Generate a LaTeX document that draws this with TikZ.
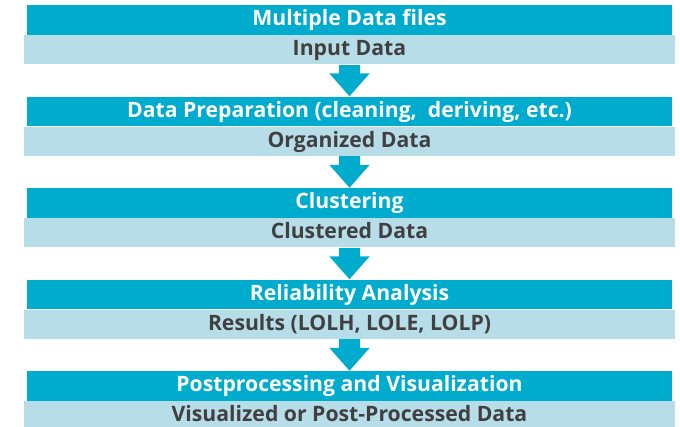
\documentclass[tikz,border=0pt]{standalone}
\usepackage{fontspec}
\setmainfont{Open Sans}
\usepackage{tikz}
\usetikzlibrary{arrows.meta, positioning}
\definecolor{cStep}{RGB}{0,172,206}
\definecolor{cData}{RGB}{183,221,233}
\definecolor{cText}{RGB}{64,64,64}
\tikzset{
	stepbar/.style ={rectangle, minimum width=645pt, minimum height=29.7pt, inner sep=0pt, text height=16pt, text depth=4pt, fill=cStep, text=white, font=\fontsize{21.2}{24}\selectfont\bfseries},
	databar/.style ={rectangle, minimum width=651pt, minimum height=29pt, inner sep=0pt, text height=16pt, text depth=4pt, fill=cData, text=cText, font=\fontsize{21.2}{24}\selectfont\bfseries},
	flowarrow/.style={-{Triangle[width=39pt, length=23pt]}, line width=21pt, draw=cStep, shorten <=0.5pt},
}
\begin{document}
\begin{tikzpicture}[node distance=0pt]
	\useasboundingbox (0,0) rectangle (680pt,-426pt);
	% pipeline stages, each with its output just below
	\node[stepbar] (s1) at (349.5pt,-19.85pt) {Multiple Data files};
	\node[databar, below=of s1] (d1) {Input Data};
	\node[stepbar, below=32pt of d1] (s2) {Data Preparation (cleaning,\ \ deriving, etc.)};
	\node[databar, below=of s2] (d2) {Organized Data};
	\node[stepbar, below=32pt of d2] (s3) {Clustering};
	\node[databar, below=of s3] (d3) {Clustered Data};
	\node[stepbar, below=32pt of d3] (s4) {Reliability Analysis};
	\node[databar, below=of s4] (d4) {Results (LOLH, LOLE, LOLP)};
	\node[stepbar, below=32pt of d4] (s5) {Postprocessing and Visualization};
	\node[databar, below=of s5] (d5) {Visualized or Post-Processed Data};
	\foreach \a/\b in {d1/s2, d2/s3, d3/s4, d4/s5}
		\draw[flowarrow] (\a) -- (\b);
\end{tikzpicture}
\end{document}
